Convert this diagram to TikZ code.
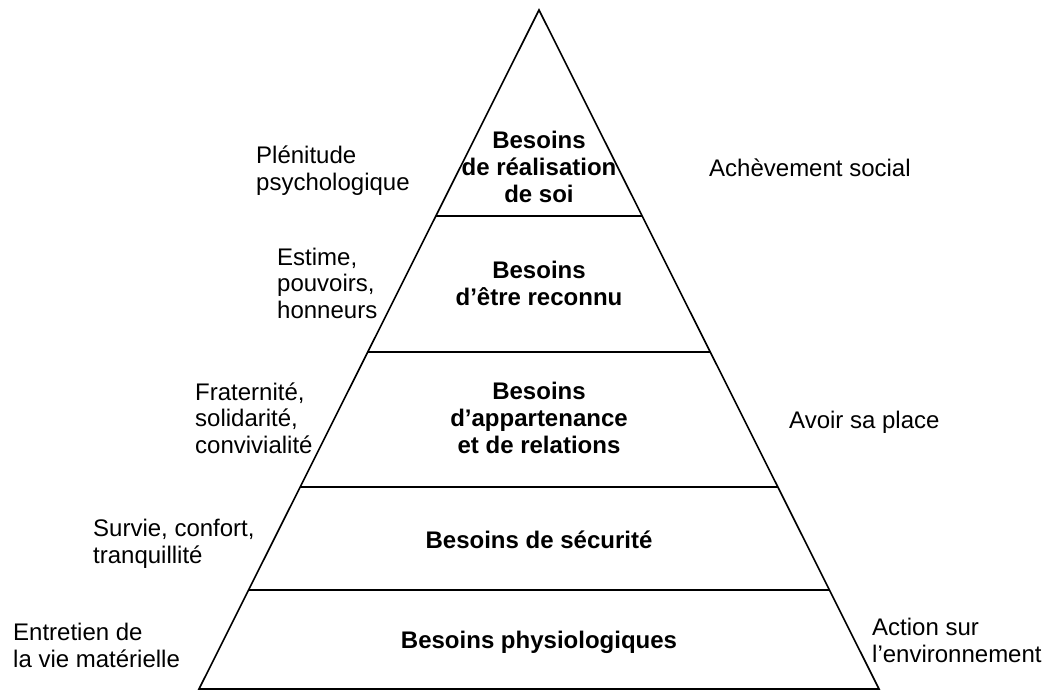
\documentclass[tikz,border=0pt]{standalone}
\usepackage{fontspec}
\setmainfont{Liberation Sans}
\usetikzlibrary{calc}
\tikzset{
  lbl/.style={font=\fontsize{24}{26.5}\selectfont, inner sep=0pt, align=left},
  lvl/.style={font=\fontsize{24}{26.8}\selectfont\bfseries, inner sep=0pt, align=center, anchor=base},
  edge/.style={line width=1.6pt, line join=miter},
  tier/.style={line width=1.5pt}
}
\begin{document}
\begin{tikzpicture}[x=1pt,y=-1pt]
\useasboundingbox (0,0) rectangle (1048,691);
% pyramid
\coordinate (A) at (539,10);
\coordinate (L) at (199,689);
\coordinate (R) at (879,689);
\draw[edge] (L) -- (A) -- (R) -- cycle;
\foreach \yy/\nm in {216/t1,352/t2,487/t3,590/t4}{
  \coordinate (\nm l) at ($(L)!{(689-\yy)/679}!(A)$);
  \coordinate (\nm r) at ($(R)!{(689-\yy)/679}!(A)$);
  \draw[tier] (\nm l) -- (\nm r);
}
% level texts (base = baseline of last line)
\node[lvl] (n1) at (539,202) {Besoins\\de réalisation\\de soi};
\node[lvl] (n2) at (539,305) {Besoins\\d’être reconnu};
\node[lvl] (n3) at (539,453) {Besoins\\d’appartenance\\et de relations};
\node[lvl] (n4) at (539,548) {Besoins de sécurité};
\node[lvl] (n5) at (539,648) {Besoins physiologiques};
% left labels
\node[lbl, anchor=base west] (p1) at (256,190) {Plénitude\\psychologique};
\node[lbl, anchor=base west] (p2) at (277,318) {Estime,\\pouvoirs,\\honneurs};
\node[lbl, anchor=base west] (p3) at (195,453) {Fraternité,\\solidarité,\\convivialité};
\node[lbl, anchor=base west] (p4) at (93,563) {Survie, confort,\\tranquillité};
\node[lbl, anchor=base west] (p5) at (13,667) {Entretien de\\la vie matérielle};
% right labels
\node[lbl, anchor=base west] (q1) at (709,176) {Achèvement social};
\node[lbl, anchor=base west] (q2) at (789,428) {Avoir sa place};
\node[lbl, anchor=base west] (q3) at (872,662) {Action sur\\l’environnement};
\end{tikzpicture}
\end{document}
